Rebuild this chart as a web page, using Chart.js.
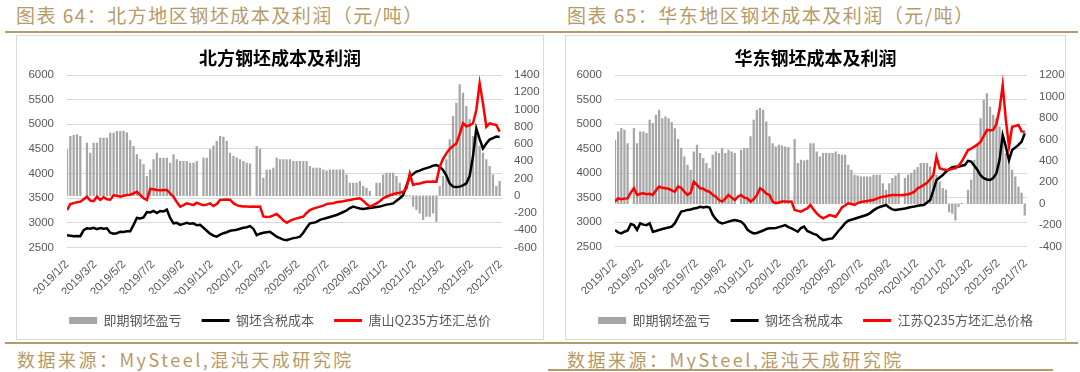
<!DOCTYPE html>
<html>
<head>
<meta charset="utf-8">
<script src="https://cdn.jsdelivr.net/npm/chart.js@4.4.1/dist/chart.umd.min.js"></script>
<style>
body{margin:0;width:1080px;height:372px;background:#fff;position:relative;overflow:hidden;font-family:"Noto Sans CJK SC",sans-serif}
.head{position:absolute;top:5px;font-size:19px;line-height:20px;letter-spacing:1.5px;color:#b59a68;white-space:nowrap}
.src{position:absolute;top:349px;font-size:18px;line-height:20px;letter-spacing:2.5px;color:#b59a68;white-space:nowrap}
.rule{position:absolute;height:2px;background:#b49b6c}
.box{position:absolute;top:35px;height:303px;border:1px solid #d9d9d9}
canvas{display:block}
</style>
</head>
<body>
<div class="head" style="left:16px">图表 64：北方地区钢坯成本及利润（元/吨）</div>
<div class="head" style="left:567px">图表 65：华东地区钢坯成本及利润（元/吨）</div>
<div class="rule" style="left:5px;width:1073px;top:31px"></div>
<div class="box" style="left:16px;width:526px"><canvas id="north" width="526" height="303"></canvas></div>
<div class="box" style="left:565px;width:499px"><canvas id="east" width="499" height="303"></canvas></div>
<div class="rule" style="left:5px;width:1073px;top:342px"></div>
<div class="src" style="left:17px">数据来源：MySteel,混沌天成研究院</div>
<div class="src" style="left:567px">数据来源：MySteel,混沌天成研究院</div>
<div class="rule" style="left:548px;width:505px;top:369px;height:1.5px"></div>
<script>
// weekly readings, first week starts 2019/1/2
const weekStart = '2019/1/2';
const tickLabels = ['2019/1/2', '2019/3/2', '2019/5/2', '2019/7/2', '2019/9/2', '2019/11/2',
  '2020/1/2', '2020/3/2', '2020/5/2', '2020/7/2', '2020/9/2', '2020/11/2',
  '2021/1/2', '2021/3/2', '2021/5/2', '2021/7/2'];

// 北方
const profitNorth = [534,688,700,708,690,null,611,495,611,611,
  669,669,669,727,727,746,746,746,730,640,
  572,476,420,360,224,300,418,495,437,437,
  437,379,476,418,398,398,398,379,379,400,
  null,437,437,534,580,630,688,680,630,495,
  456,440,418,400,379,370,null,572,540,205,
  300,300,320,437,418,418,418,418,398,398,
  398,398,398,340,320,320,320,300,290,300,
  300,300,300,300,244,147,147,147,166,108,
  89,50,null,147,147,244,263,263,263,224,
  147,50,-8,-8,-124,-162,-201,-278,-240,-240,
  -201,-298,108,224,418,650,920,1075,1288,1190,
  1036,882,688,688,572,495,418,340,244,108,
  166];
const costNorth = [2750,2740,2730,2735,2730,2850,2890,2880,2900,2870,
  2895,2880,2890,2800,2780,2790,2820,2815,2830,2830,
  2960,3100,3090,3110,3220,3210,3240,3200,3240,3230,
  3270,3100,2990,3000,2960,2980,3000,2980,2990,2950,
  2960,2900,2840,2780,2740,2720,2760,2790,2810,2840,
  2850,2860,2880,2900,2910,2935,2880,2750,2780,2800,
  2810,2820,2770,2720,2690,2660,2650,2670,2690,2700,
  2720,2800,2900,2990,3000,3020,3060,3080,3100,3120,
  3140,3160,3190,3220,3250,3300,3330,3310,3290,3280,
  3290,3300,3310,3320,3330,3350,3370,3380,3395,3450,
  3500,3560,3750,3935,3990,4040,4060,4090,4110,4130,
  4160,4175,4140,4070,3960,3800,3735,3730,3735,3760,
  3800,3950,4350,4915,4700,4510,4610,4690,4720,4750,
  4740];
const priceNorth = [3260,3380,3400,3420,3430,3480,3530,3450,3440,3530,
  3465,3520,3480,3470,3560,3550,3530,3550,3565,3570,
  3600,3630,3565,3500,3465,3690,3680,3665,3660,3665,
  3665,3600,3530,3420,3330,3360,3395,3380,3360,3410,
  3380,3360,3370,3395,3340,3380,3465,3470,3475,3470,
  3400,3360,3340,3330,3330,3325,3330,3325,3330,3130,
  3120,3125,3150,3180,3120,3050,3000,3040,3070,3090,
  3110,3125,3200,3260,3290,3310,3330,3350,3380,3395,
  3400,3420,3430,3440,3455,3465,3480,3490,3500,3450,
  3380,3330,3360,3395,3440,3500,3530,3560,3580,3600,
  3610,3630,3700,4000,3770,3790,3800,3820,3835,3835,
  3840,3835,4140,4300,4410,4500,4560,4610,4800,5020,
  4960,4980,5020,5290,5830,5425,4950,5020,5000,4985,
  4850];

// 华东
const profitEast = [593,671,702,687,562,null,702,562,671,671,
  656,780,749,826,873,795,811,795,760,700,
  600,520,438,360,314,485,547,469,423,376,
  329,454,485,469,516,469,500,485,470,null,
  500,516,516,625,780,873,889,873,764,625,
  562,531,547,540,531,525,null,600,376,407,
  400,407,562,560,485,438,469,469,469,470,
  485,460,454,454,360,314,267,260,252,252,
  252,252,267,267,267,189,127,189,236,260,
  283,null,236,267,283,314,340,376,376,376,
  345,283,267,205,143,127,-75,-90,-152,-28,
  3,null,127,220,407,562,795,966,1028,904,
  826,795,718,578,469,407,314,252,158,100,
  -106];
const costEast = [2840,2790,2770,2805,2830,2960,2940,2840,2975,2950,
  2940,2975,2805,2820,2840,2860,2875,2890,2910,2980,
  3100,3215,3230,3250,3260,3280,3290,3315,3300,3315,
  3300,3150,3060,3000,2975,2990,3010,3030,3045,3030,
  3010,2950,2850,2800,2770,2780,2805,2830,2860,2875,
  2875,2880,2900,2920,2940,2900,2875,2840,2805,2880,
  2910,2820,2790,2760,2740,2680,2635,2645,2660,2670,
  2750,2830,2900,2980,3030,3050,3070,3090,3110,3130,
  3150,3190,3240,3280,3310,3330,3350,3300,3260,3250,
  3260,3270,3280,3295,3310,3320,3335,3345,3350,3400,
  3450,3650,3860,3910,3960,4030,4080,4120,4130,4130,
  4150,4165,4250,4235,4150,4065,3950,3895,3870,3860,
  3900,3995,4265,4775,4540,4265,4470,4520,4575,4640,
  4810];
const priceEast = [3420,3485,3470,3480,3485,3600,3690,3555,3580,3590,
  3570,3580,3555,3650,3725,3700,3690,3680,3650,3620,
  3725,3700,3620,3555,3600,3825,3760,3690,3680,3640,
  3620,3560,3520,3450,3420,3480,3555,3500,3450,3520,
  3555,3500,3485,3420,3470,3550,3690,3650,3580,3555,
  3420,3385,3400,3420,3420,3415,3420,3250,3230,3215,
  3250,3280,3350,3260,3180,3120,3080,3110,3145,3130,
  3110,3200,3300,3340,3385,3370,3350,3390,3410,3420,
  3430,3440,3450,3480,3500,3520,3530,3545,3555,3555,
  3555,3550,3560,3570,3590,3620,3690,3720,3760,3800,
  3880,3960,4335,4100,4080,4065,4070,4090,4100,4150,
  4235,4350,4470,4500,4540,4580,4640,4760,4880,4870,
  4880,5000,5300,5795,5085,4540,4945,4960,4980,4850,
  4845];

const namesNorth = ['即期钢坯盈亏', '钢坯含税成本', '唐山Q235方坯汇总价'];
const namesEast = ['即期钢坯盈亏', '钢坯含税成本', '江苏Q235方坯汇总价格'];
const colors = ['#a6a6a6', '#000000', '#ff0000'];

const CJK = '"Noto Sans CJK SC", sans-serif';
const NUM = '"Liberation Sans", Arial, sans-serif';
const DAY = 86400000;

function dayOf(s) {
  const p = s.split('/').map(Number);
  return Date.UTC(p[0], p[1] - 1, p[2]);
}
const tickDays = tickLabels.map(s => (dayOf(s) - dayOf(weekStart)) / DAY);

function pts(arr) {
  return arr.map((v, i) => ({x: i * 7, y: v}));
}

function makeChart(id, cfg) {
  return new Chart(document.getElementById(id), {
    type: 'line',
    data: {
      datasets: [
        {type: 'bar', label: cfg.names[0], data: pts(cfg.profit), yAxisID: 'y1',
         backgroundColor: colors[0], barThickness: 1.6, order: 3},
        {type: 'line', label: cfg.names[1], data: pts(cfg.cost), yAxisID: 'y',
         borderColor: colors[1], backgroundColor: colors[1], borderWidth: 2.5, pointRadius: 0, order: 2},
        {type: 'line', label: cfg.names[2], data: pts(cfg.price), yAxisID: 'y',
         borderColor: colors[2], backgroundColor: colors[2], borderWidth: 2.5, pointRadius: 0, order: 1}
      ]
    },
    options: {
      responsive: false,
      animation: false,
      devicePixelRatio: 1,
      layout: {padding: {left: 0, right: 0, top: 0, bottom: 2}},
      plugins: {
        title: {display: true, text: cfg.title, color: '#000',
          font: {family: CJK, size: 18, weight: 'bold'},
          padding: {top: 11.7, bottom: 5.7}},
        legend: {
          position: 'bottom',
          labels: {
            usePointStyle: true, pointStyleWidth: 28, boxHeight: 7, padding: 20,
            color: '#595959', font: {family: CJK, size: 13},
            sort: (a, b) => a.datasetIndex - b.datasetIndex,
            generateLabels: chart => Chart.defaults.plugins.legend.labels.generateLabels(chart).map(it => {
              const k = it.datasetIndex;
              it.fillStyle = colors[k];
              it.strokeStyle = colors[k];
              it.lineWidth = k === 0 ? 0 : 3;
              it.pointStyle = k === 0 ? 'rect' : 'line';
              return it;
            })
          }
        },
        tooltip: {enabled: false}
      },
      scales: {
        x: {
          type: 'linear', min: 0, max: 915, offset: false,
          grid: {display: false, offset: false}, border: {display: false},
          afterBuildTicks: s => { s.ticks = tickDays.map(v => ({value: v})); },
          afterFit: s => { s.height = cfg.xH; },
          ticks: {autoSkip: false, minRotation: 45, maxRotation: 45, padding: 2,
            color: '#595959', font: {family: NUM, size: 11.5},
            callback: (v, i) => tickLabels[i]}
        },
        y: {
          position: 'left', min: 2500, max: 6000,
          ticks: {stepSize: 500, padding: 13, color: '#595959', font: {family: NUM, size: 11.5},
            callback: v => String(v)},
          grid: {color: '#d9d9d9', drawTicks: false}, border: {display: false},
          afterFit: s => { s.width = cfg.leftW; }
        },
        y1: {
          position: 'right', min: cfg.rMin, max: cfg.rMax,
          ticks: {stepSize: 200, padding: 12, color: '#595959', font: {family: NUM, size: 11.5},
            callback: v => String(v)},
          grid: {display: false, drawTicks: false}, border: {display: false},
          afterFit: s => { s.width = cfg.rightW; }
        }
      }
    }
  });
}

makeChart('north', {title: '北方钢坯成本及利润', names: namesNorth,
  profit: profitNorth, cost: costNorth, price: priceNorth,
  rMin: -600, rMax: 1400, leftW: 50, rightW: 41, xH: 46.5});
makeChart('east', {title: '华东钢坯成本及利润', names: namesEast,
  profit: profitEast, cost: costEast, price: priceEast,
  rMin: -400, rMax: 1200, leftW: 49, rightW: 38, xH: 47.3});
</script>
</body>
</html>
